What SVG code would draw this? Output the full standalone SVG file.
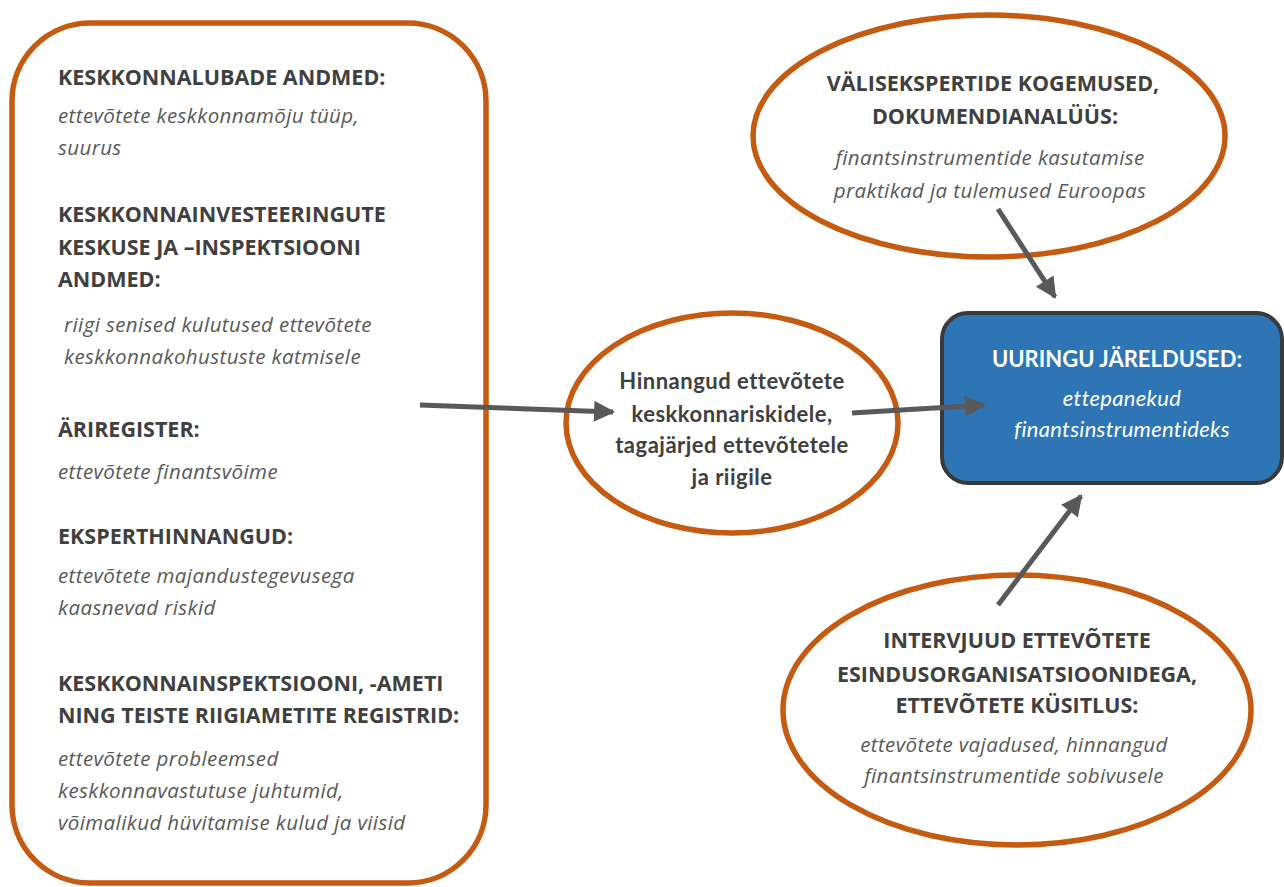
<svg xmlns="http://www.w3.org/2000/svg" width="1284" height="887" viewBox="0 0 1284 887">
<style>
.box{fill:#fff;stroke:#C55A11;stroke-width:5.5}
.h{font-family:"Open Sans","Noto Sans",sans-serif;font-weight:700;font-size:21.5px;fill:#404040}
.i{font-family:"Open Sans","Noto Sans",sans-serif;font-style:italic;font-size:20.5px;letter-spacing:0.4px;fill:#595959}
.c{font-family:Lato,"Open Sans",sans-serif;font-weight:700;font-size:22px;letter-spacing:0.5px;fill:#404040;text-anchor:middle}
.bh{font-family:Lato,"Open Sans",sans-serif;font-weight:700;font-size:22px;fill:#fff;text-anchor:middle}
.bi{font-family:Lato,"Open Sans",sans-serif;font-style:italic;font-size:22px;letter-spacing:0.3px;fill:#fff;text-anchor:middle}
.m{text-anchor:middle}
.conn{stroke:#595959;stroke-width:5;fill:none}
</style>
<defs>
<marker id="ah" viewBox="0 0 10 10" refX="9" refY="5" markerWidth="4.8" markerHeight="4.2" markerUnits="strokeWidth" orient="auto">
<path d="M0,0 L10,5 L0,10 Z" fill="#595959"/>
</marker>
</defs>
<g id="sources">
<rect class="box" x="12" y="23" width="474" height="860" rx="78" ry="78"/>
<text class="h" x="58" y="85">KESKKONNALUBADE ANDMED:</text>
<text class="i" x="58" y="123">ettevõtete keskkonnamõju tüüp,</text>
<text class="i" x="58" y="155">suurus</text>
<text class="h" x="58" y="222">KESKKONNAINVESTEERINGUTE</text>
<text class="h" x="58" y="255">KESKUSE JA –INSPEKTSIOONI</text>
<text class="h" x="58" y="287">ANDMED:</text>
<text class="i" x="64" y="332">riigi senised kulutused ettevõtete</text>
<text class="i" x="64" y="364">keskkonnakohustuste katmisele</text>
<text class="h" x="58" y="437">ÄRIREGISTER:</text>
<text class="i" x="58" y="479">ettevõtete finantsvõime</text>
<text class="h" x="58" y="544">EKSPERTHINNANGUD:</text>
<text class="i" x="58" y="583">ettevõtete majandustegevusega</text>
<text class="i" x="58" y="615">kaasnevad riskid</text>
<text class="h" x="58" y="691">KESKKONNAINSPEKTSIOONI, -AMETI</text>
<text class="h" x="58" y="723">NING TEISTE RIIGIAMETITE REGISTRID:</text>
<text class="i" x="58" y="766">ettevõtete probleemsed</text>
<text class="i" x="58" y="798">keskkonnavastutuse juhtumid,</text>
<text class="i" x="58" y="830">võimalikud hüvitamise kulud ja viisid</text>
</g>
<g id="assessment">
<ellipse class="box" cx="732" cy="423" rx="166" ry="110"/>
<text class="c" x="732" y="389">Hinnangud ettevõtete</text>
<text class="c" x="732" y="422">keskkonnariskidele,</text>
<text class="c" x="732" y="453">tagajärjed ettevõtetele</text>
<text class="c" x="732" y="485">ja riigile</text>
</g>
<g id="foreign">
<ellipse class="box" cx="989" cy="136" rx="236" ry="121"/>
<text class="h m" x="993" y="91">VÄLISEKSPERTIDE KOGEMUSED,</text>
<text class="h m" x="995" y="124">DOKUMENDIANALÜÜS:</text>
<text class="i m" x="990" y="165">finantsinstrumentide kasutamise</text>
<text class="i m" x="990" y="198">praktikad ja tulemused Euroopas</text>
</g>
<g id="interviews">
<ellipse class="box" cx="1017" cy="710" rx="234" ry="135"/>
<text class="h m" x="1017" y="648">INTERVJUUD ETTEVÕTETE</text>
<text class="h m" x="1017" y="682">ESINDUSORGANISATSIOONIDEGA,</text>
<text class="h m" x="1017" y="713">ETTEVÕTETE KÜSITLUS:</text>
<text class="i m" x="1014" y="752">ettevõtete vajadused, hinnangud</text>
<text class="i m" x="1014" y="783">finantsinstrumentide sobivusele</text>
</g>
<g id="conclusions">
<rect x="942" y="313" width="340" height="170" rx="26" ry="26" fill="#2E75B6" stroke="#3a3a3a" stroke-width="4"/>
<text class="bh" x="1117" y="367">UURINGU JÄRELDUSED:</text>
<text class="bi" x="1122" y="406">ettepanekud</text>
<text class="bi" x="1122" y="437">finantsinstrumentideks</text>
</g>
<g id="connectors">
<line class="conn" x1="420" y1="405" x2="613" y2="412" marker-end="url(#ah)"/>
<line class="conn" x1="852" y1="413" x2="984" y2="405" marker-end="url(#ah)"/>
<line class="conn" x1="998" y1="209" x2="1055" y2="297" marker-end="url(#ah)"/>
<line class="conn" x1="998" y1="605" x2="1081" y2="496" marker-end="url(#ah)"/>
</g>
</svg>
